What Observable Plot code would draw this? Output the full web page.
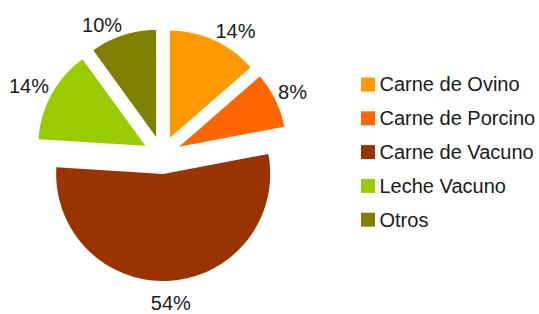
<!DOCTYPE html>
<html>
<head>
<meta charset="utf-8">
<script src="https://cdn.jsdelivr.net/npm/d3@7"></script>
<script src="https://cdn.jsdelivr.net/npm/@observablehq/plot@0.6"></script>
<style>
  html, body { margin: 0; padding: 0; background: #ffffff; }
  #chart svg { display: block; }
</style>
</head>
<body>
<div id="chart"></div>
<script>
// Data
const categories = ["Carne de Ovino", "Carne de Porcino", "Carne de Vacuno", "Leche Vacuno", "Otros"];
const shares = [13.6, 8.4, 54.0, 14.0, 10.0];
const colors = ["#ff9900", "#ff6600", "#993300", "#99cc00", "#808000"];

// Layout
const W = 539, H = 314;
const cx = 161.5, cy = 154.5, R = 107, explode = 19, labelR = 129, belowExtra = 12;
const fontFamily = "'Liberation Sans', Arial, Helvetica, sans-serif";

const total = d3.sum(shares);
const arcs = d3.pie().sort(null).value(d => d)(shares);

const slices = arcs.map((a, i) => {
  const mid = (a.startAngle + a.endAngle) / 2;
  const ex = explode * Math.sin(mid), ey = -explode * Math.cos(mid);
  const pts = [{x: cx + ex, y: cy + ey}];
  const steps = Math.max(8, Math.ceil((a.endAngle - a.startAngle) / (Math.PI / 180)));
  for (let k = 0; k <= steps; k++) {
    const t = a.startAngle + (a.endAngle - a.startAngle) * k / steps;
    pts.push({x: cx + ex + R * Math.sin(t), y: cy + ey - R * Math.cos(t)});
  }
  const s = Math.sin(mid), c = Math.cos(mid);
  const lineAnchor = c > 0.2 ? "bottom" : c < -0.2 ? "top" : "middle";
  const lr = labelR + (lineAnchor === "top" ? belowExtra : 0);
  return {
    name: categories[i], color: colors[i], pts,
    label: Math.round(shares[i] / total * 100) + "%",
    lx: cx + lr * s, ly: cy - lr * c,
    textAnchor: s > 0.2 ? "start" : s < -0.2 ? "end" : "middle",
    lineAnchor
  };
});

const legendRows = categories.map((name, i) => ({name, color: colors[i], i}));
const lgX = 361, lgY0 = 84.5, lgStep = 33.8, sw = 14;

const marks = [];
for (const s of slices) {
  marks.push(Plot.line(s.pts, {x: "x", y: "y", fill: s.color, stroke: "none", curve: "linear-closed"}));
}
for (const s of slices) {
  marks.push(Plot.text([s], {
    x: "lx", y: "ly", text: "label",
    textAnchor: s.textAnchor, lineAnchor: s.lineAnchor,
    fontSize: 20, fill: "#1a1a1a"
  }));
}
marks.push(Plot.rect(legendRows, {
  x1: d => lgX, x2: d => lgX + sw,
  y1: d => lgY0 + d.i * lgStep - sw / 2, y2: d => lgY0 + d.i * lgStep + sw / 2,
  fill: d => d.color
}));
marks.push(Plot.text(legendRows, {
  x: d => lgX + sw + 4, y: d => lgY0 + d.i * lgStep, text: "name",
  textAnchor: "start", lineAnchor: "middle", fontSize: 20, fill: "#1a1a1a"
}));

const chart = Plot.plot({
  width: W, height: H,
  margin: 0,
  x: {domain: [0, W], range: [0, W], axis: null},
  y: {domain: [0, H], range: [0, H], axis: null},
  color: {type: "identity"},
  style: {fontFamily, background: "#ffffff", overflow: "visible"},
  marks
});
document.getElementById("chart").appendChild(chart);
</script>
</body>
</html>
